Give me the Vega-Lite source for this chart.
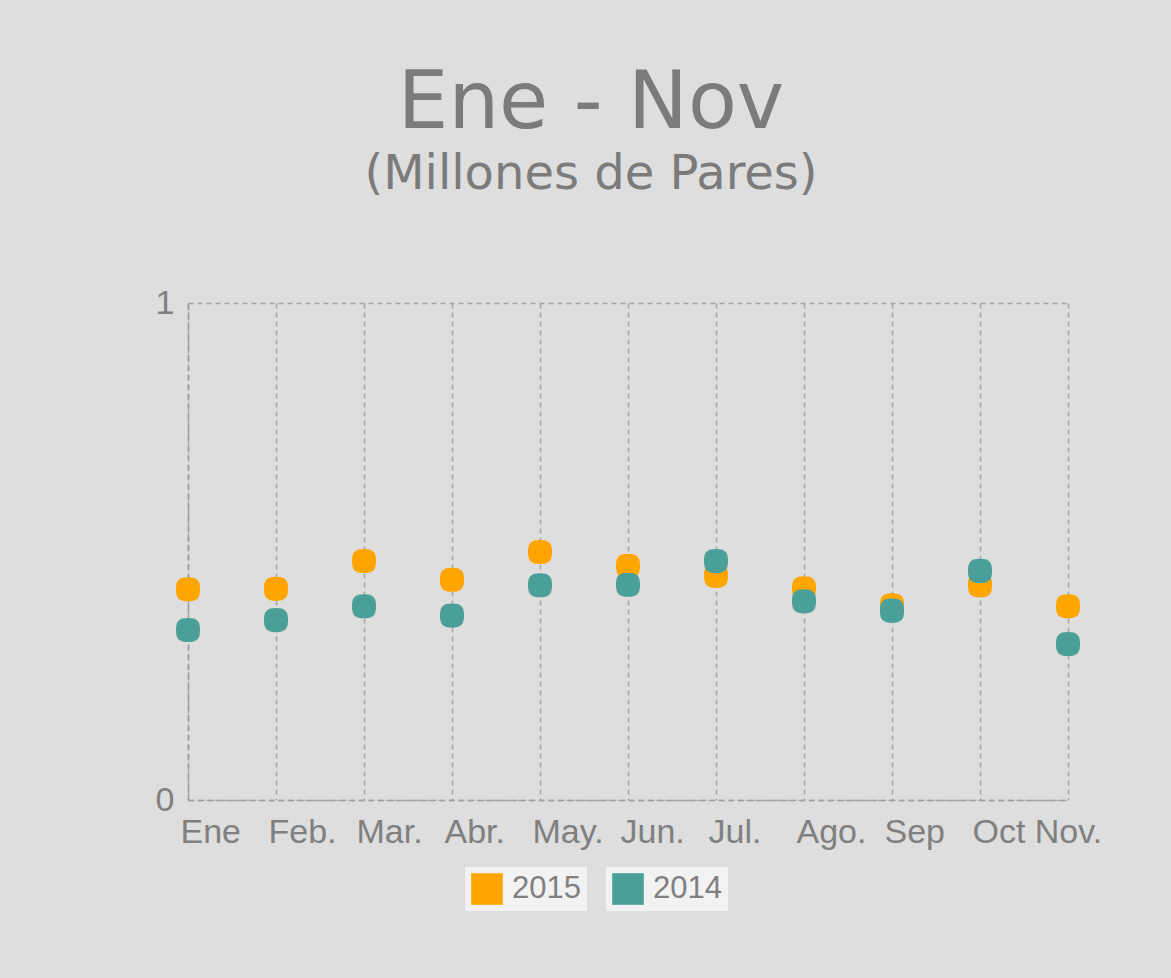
{
  "$schema": "https://vega.github.io/schema/vega-lite/v6.json",
  "width": 880,
  "height": 497,
  "autosize": {"type": "none"},
  "padding": {"left": 188, "top": 303, "right": 103, "bottom": 178},
  "background": "#dedede",
  "title": {
    "text": "Ene - Nov",
    "subtitle": "(Millones de Pares)",
    "anchor": "middle",
    "frame": "group",
    "dx": -37,
    "offset": 86,
    "font": "DejaVu Sans",
    "fontSize": 80,
    "fontWeight": "normal",
    "color": "#7b7b7b",
    "subtitleFont": "DejaVu Sans",
    "subtitleFontSize": 48,
    "subtitleColor": "#7b7b7b",
    "subtitlePadding": 6
  },
  "datasets": {
    "ventas": [
      {"Mes": "Ene", "Año": "2015", "Valor": 0.424},
      {"Mes": "Feb.", "Año": "2015", "Valor": 0.425},
      {"Mes": "Mar.", "Año": "2015", "Valor": 0.481},
      {"Mes": "Abr.", "Año": "2015", "Valor": 0.443},
      {"Mes": "May.", "Año": "2015", "Valor": 0.499},
      {"Mes": "Jun.", "Año": "2015", "Valor": 0.471},
      {"Mes": "Jul.", "Año": "2015", "Valor": 0.451},
      {"Mes": "Ago.", "Año": "2015", "Valor": 0.426},
      {"Mes": "Sep", "Año": "2015", "Valor": 0.392},
      {"Mes": "Oct", "Año": "2015", "Valor": 0.432},
      {"Mes": "Nov.", "Año": "2015", "Valor": 0.390},
      {"Mes": "Ene", "Año": "2014", "Valor": 0.342},
      {"Mes": "Feb.", "Año": "2014", "Valor": 0.362},
      {"Mes": "Mar.", "Año": "2014", "Valor": 0.390},
      {"Mes": "Abr.", "Año": "2014", "Valor": 0.371},
      {"Mes": "May.", "Año": "2014", "Valor": 0.432},
      {"Mes": "Jun.", "Año": "2014", "Valor": 0.433},
      {"Mes": "Jul.", "Año": "2014", "Valor": 0.481},
      {"Mes": "Ago.", "Año": "2014", "Valor": 0.400},
      {"Mes": "Sep", "Año": "2014", "Valor": 0.381},
      {"Mes": "Oct", "Año": "2014", "Valor": 0.461},
      {"Mes": "Nov.", "Año": "2014", "Valor": 0.314}
    ]
  },
  "data": {"name": "ventas"},
  "encoding": {
    "x": {
      "field": "Mes",
      "type": "nominal",
      "scale": {
        "type": "point",
        "padding": 0,
        "domain": ["Ene", "Feb.", "Mar.", "Abr.", "May.", "Jun.", "Jul.", "Ago.", "Sep", "Oct", "Nov."]
      },
      "axis": {
        "title": null,
        "labelAngle": 0,
        "ticks": false,
        "grid": true,
        "gridColor": "#a5a5a5",
        "gridDash": [5, 4],
        "gridWidth": 1.5,
        "domainColor": "#a0a0a0",
        "domainDash": [6, 4],
        "domainWidth": 1.5,
        "labelFont": "Liberation Sans",
        "labelFontSize": 34,
        "labelColor": "#808080",
        "labelPadding": 15,
        "labelBaseline": "top",
        "labelAlign": {"expr": "datum.value === 'Nov.' ? 'center' : 'left'"},
        "labelOffset": {"expr": "datum.value === 'Nov.' ? 0 : -8"},
        "labelFlush": false,
        "labelOverlap": false
      }
    },
    "y": {
      "field": "Valor",
      "type": "quantitative",
      "scale": {"domain": [0, 1], "nice": false, "zero": true},
      "axis": {
        "title": null,
        "values": [0, 1],
        "format": "d",
        "ticks": false,
        "grid": true,
        "gridColor": "#a5a5a5",
        "gridDash": [5, 4],
        "gridWidth": 1.5,
        "domainColor": "#999999",
        "domainDash": [6, 4],
        "domainWidth": 1.5,
        "labelFont": "Liberation Sans",
        "labelFontSize": 34,
        "labelColor": "#808080",
        "labelPadding": 14,
        "labelFlush": false
      }
    }
  },
  "layer": [
    {
      "transform": [{"filter": "datum['Año'] === '2015'"}],
      "mark": {
        "type": "point",
        "filled": true,
        "opacity": 1,
        "size": 580,
        "shape": "M 0 -1 C 0.75 -1 1 -0.75 1 0 C 1 0.75 0.75 1 0 1 C -0.75 1 -1 0.75 -1 0 C -1 -0.75 -0.75 -1 0 -1 Z"
      },
      "encoding": {
        "color": {
          "field": "Año",
          "type": "nominal",
          "scale": {"domain": ["2015"], "range": ["#FFA500"]},
          "legend": {
            "title": null,
            "orient": "none",
            "legendX": 277,
            "legendY": 564,
            "direction": "horizontal",
            "symbolType": "square",
            "symbolSize": 1000,
            "symbolStrokeWidth": 0,
            "symbolOpacity": 1,
            "labelFont": "Liberation Sans",
            "labelFontSize": 31,
            "labelColor": "#808080",
            "labelOffset": 9,
            "padding": 6,
            "fillColor": "#f2f2f2",
            "strokeColor": null
          }
        }
      }
    },
    {
      "transform": [{"filter": "datum['Año'] === '2014'"}],
      "mark": {
        "type": "point",
        "filled": true,
        "opacity": 1,
        "size": 580,
        "shape": "M 0 -1 C 0.75 -1 1 -0.75 1 0 C 1 0.75 0.75 1 0 1 C -0.75 1 -1 0.75 -1 0 C -1 -0.75 -0.75 -1 0 -1 Z"
      },
      "encoding": {
        "color": {
          "field": "Año",
          "type": "nominal",
          "scale": {"domain": ["2014"], "range": ["#4A9F98"]},
          "legend": {
            "title": null,
            "orient": "none",
            "legendX": 418,
            "legendY": 564,
            "direction": "horizontal",
            "symbolType": "square",
            "symbolSize": 1000,
            "symbolStrokeWidth": 0,
            "symbolOpacity": 1,
            "labelFont": "Liberation Sans",
            "labelFontSize": 31,
            "labelColor": "#808080",
            "labelOffset": 9,
            "padding": 6,
            "fillColor": "#f2f2f2",
            "strokeColor": null
          }
        }
      }
    }
  ],
  "resolve": {"scale": {"color": "independent"}},
  "config": {
    "view": {"stroke": null}
  }
}
